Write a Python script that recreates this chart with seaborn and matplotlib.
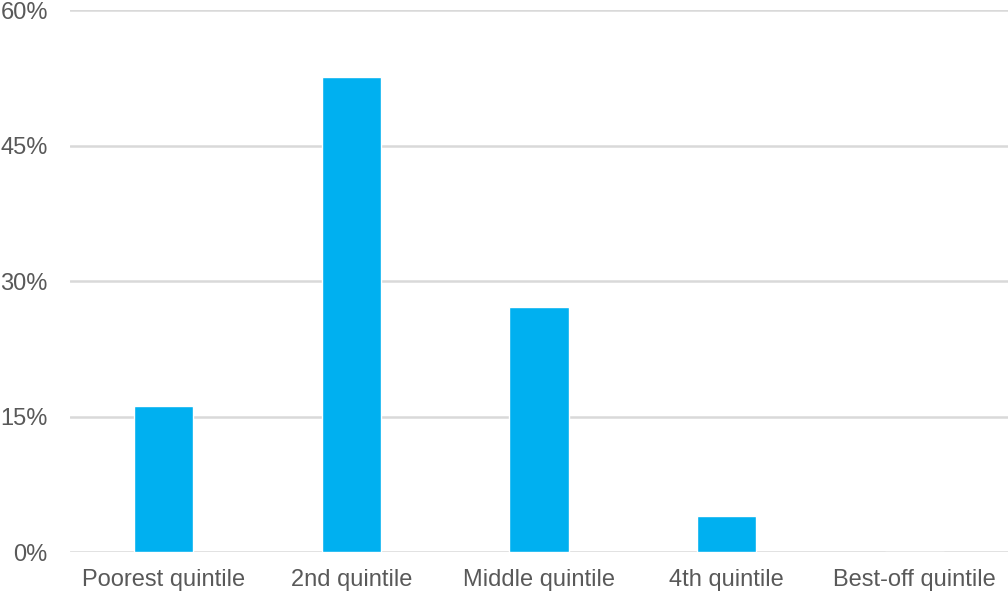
import matplotlib
matplotlib.use("Agg")
import matplotlib.pyplot as plt
import seaborn as sns
import pandas as pd
from matplotlib.ticker import FuncFormatter

categories = ["Poorest quintile", "2nd quintile", "Middle quintile", "4th quintile", "Best-off quintile"]
values = [16.2, 52.6, 27.2, 4.0, 0.0]
yticks = [0, 15, 30, 45, 60]

sns.set_theme(style="white")
plt.rcParams['font.family'] = ['Liberation Sans', 'DejaVu Sans']

df = pd.DataFrame({"cat": categories, "val": values})

fig = plt.figure(figsize=(10.08, 5.92), dpi=100)
ax = fig.add_axes([70/1008, (592-552.3)/592, 938/1008, (552.3-10.3)/592])
sns.barplot(data=df, x="cat", y="val", color="#00B0F0", saturation=1, width=0.315, ax=ax, zorder=3)

ax.set_ylim(0, 60)
ax.set_xlim(-0.5, 4.5)
ax.set_yticks(yticks)
ax.yaxis.set_major_formatter(FuncFormatter(lambda v, p: f"{v:.0f}%"))
ax.grid(axis="y", color="#d9d9d9", linewidth=1.8, zorder=0)
ax.set_axisbelow(True)
for s in ax.spines.values():
    s.set_visible(False)
ax.set_xlabel("")
ax.set_ylabel("")
ax.tick_params(axis="both", length=0, labelsize=17, labelcolor="#595959")
ax.tick_params(axis="y", pad=16)
ax.tick_params(axis="x", pad=12)

fig.savefig("out.png", dpi=100)
